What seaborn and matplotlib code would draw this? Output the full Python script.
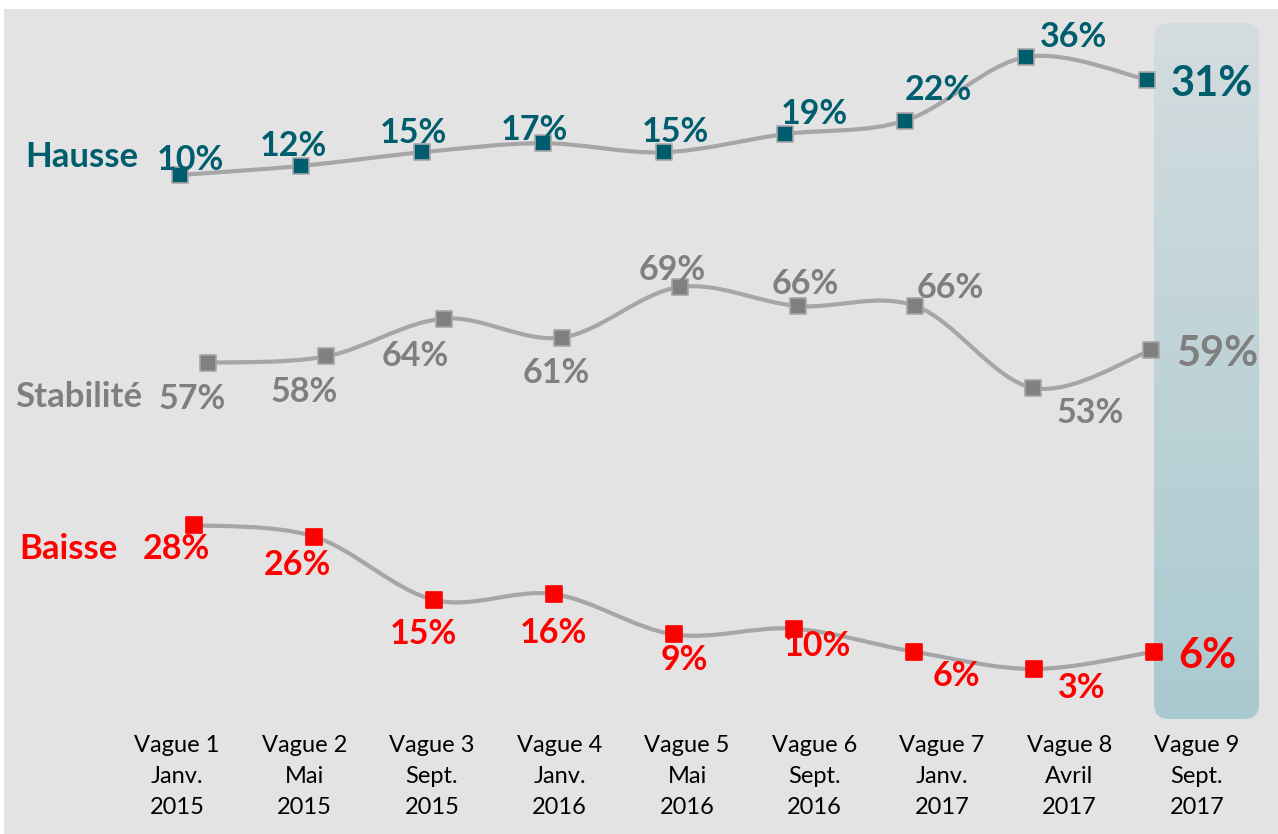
import matplotlib
matplotlib.use("Agg")
import matplotlib.pyplot as plt
from matplotlib.patches import FancyBboxPatch, PathPatch, Rectangle
from matplotlib.path import Path
from matplotlib.colors import LinearSegmentedColormap
import numpy as np
import seaborn as sns

# ---- data --------------------------------------------------------------
waves = ["Vague 1\nJanv.\n2015", "Vague 2\nMai\n2015", "Vague 3\nSept.\n2015",
         "Vague 4\nJanv.\n2016", "Vague 5\nMai\n2016", "Vague 6\nSept.\n2016",
         "Vague 7\nJanv.\n2017", "Vague 8\nAvril\n2017", "Vague 9\nSept.\n2017"]
hausse = [10, 12, 15, 17, 15, 19, 22, 36, 31]
stabilite = [57, 58, 64, 61, 69, 66, 66, 53, 59]
baisse = [28, 26, 15, 16, 9, 10, 6, 3, 6]

# ---- layout (pixels, y measured from top) ------------------------------
W, H = 1278, 834
TEAL, GREY_TXT, RED = "#005d6e", "#7f7f7f", "#ff0000"
LINE = "#a6a6a6"

series = [
    dict(name="Hausse", vals=hausse, color=TEAL, mk=TEAL, edge=LINE,
         x0=180, step=120.9, yref=175, vref=10, k=4.54, name_xy=(25, 157),
         offs=[(10, -15), (-8, -20), (-8, -19), (-8, -13), (12, -20),
               (30, -20), (33, -31), (47, -20), (65, 4)]),
    dict(name="Stabilité", vals=stabilite, color=GREY_TXT, mk="#808080", edge=LINE,
         x0=208, step=117.9, yref=388, vref=53, k=6.31, name_xy=(15, 397),
         offs=[(-16, 36), (-22, 36), (-29, 37), (-5, 35), (-7, -17),
               (8, -22), (35, -18), (57, 25), (66, 4)]),
    dict(name="Baisse", vals=baisse, color=RED, mk=RED, edge=RED,
         x0=194, step=120.0, yref=669, vref=3, k=5.76, name_xy=(19, 549),
         offs=[(-18, 24), (-17, 28), (-11, 34), (-1, 39), (10, 26),
               (23, 17), (42, 24), (48, 19), (53, 4)]),
]


def smooth_path(x, y):
    pts = np.column_stack([x, y]).astype(float)
    n = len(pts)
    verts, codes = [pts[0]], [Path.MOVETO]
    for i in range(n - 1):
        p0, p1 = pts[max(i - 1, 0)], pts[i]
        p2, p3 = pts[i + 1], pts[min(i + 2, n - 1)]
        verts += [p1 + (p2 - p0) / 6, p2 - (p3 - p1) / 6, p2]
        codes += [Path.CURVE4] * 3
    return Path(verts, codes)


sns.set_theme(style="white")
plt.rcParams['font.family'] = ['Lato', 'DejaVu Sans']

fig = plt.figure(figsize=(W / 100, H / 100), dpi=100)
fig.patch.set_facecolor("white")

# background + highlight
ax_bg = fig.add_axes([0, 0, 1, 1])
ax_bg.add_patch(Rectangle((4, 9), W, H, color="#e3e3e3", lw=0, zorder=0))
box = FancyBboxPatch((1169, 38), 75, 666, boxstyle="round,pad=15",
                     facecolor="none", edgecolor="none", zorder=1)
ax_bg.add_patch(box)
cmap = LinearSegmentedColormap.from_list("hl", ["#d4dcdf", "#a9cad0"])
im = ax_bg.imshow(np.linspace(0, 1, 256).reshape(-1, 1), cmap=cmap, aspect="auto",
                  extent=(1154, 1259, 719, 23), origin="upper", zorder=1)
im.set_clip_path(box)
ax_bg.set_xlim(0, W)
ax_bg.set_ylim(H, 0)
ax_bg.axis("off")

idx = np.arange(len(waves))
for s in series:
    ax = fig.add_axes([0, 0, 1, 1])
    ax.set_facecolor("none")
    ax.set_xlim(-s["x0"] / s["step"], (W - s["x0"]) / s["step"])
    ax.set_ylim(s["vref"] - (H - s["yref"]) / s["k"], s["vref"] + s["yref"] / s["k"])
    ax.add_patch(PathPatch(smooth_path(idx, s["vals"]), facecolor="none",
                           edgecolor=LINE, lw=3, zorder=2, capstyle="round"))
    sns.scatterplot(x=idx, y=s["vals"], ax=ax, marker="s", s=130, color=s["mk"],
                    edgecolor=s["edge"], linewidth=1.2, zorder=3)
    for i, v in enumerate(s["vals"]):
        last = i == len(idx) - 1
        dx, dy = s["offs"][i]
        ax.annotate(f"{v}%", (i, v), xytext=(dx, -dy), textcoords="offset pixels",
                    ha="center", va="center", color=s["color"], fontweight="bold",
                    fontsize=30 if last else 24.5, zorder=4)
    ax.axis("off")
    ax_bg.text(s["name_xy"][0], s["name_xy"][1], s["name"], ha="left", va="center",
               color=s["color"], fontweight="bold", fontsize=25)

# category axis
ax_x = fig.add_axes([0, (H - 735) / H, 1, 0.0001])
ax_x.set_facecolor("none")
ax_x.set_xlim(-177 / 127.5, (W - 177) / 127.5)
ax_x.set_xticks(idx)
ax_x.set_xticklabels(waves, fontsize=17, color="black")
for t in ax_x.get_xticklabels():
    t.set_linespacing(1.58)
ax_x.tick_params(axis="x", length=0, pad=0)
ax_x.set_yticks([])
for sp in ax_x.spines.values():
    sp.set_visible(False)

fig.savefig("out.png", dpi=100)
